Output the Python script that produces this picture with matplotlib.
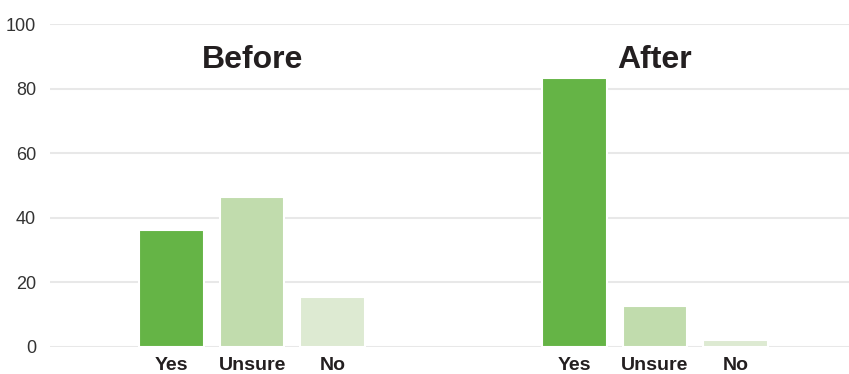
import matplotlib
matplotlib.use('Agg')
import matplotlib.pyplot as plt

# survey answers, percent of respondents
answers = ['Yes', 'Unsure', 'No']
before = [36.3, 46.6, 15.4]
after = [83.3, 12.7, 2.2]
groups = ['Before', 'After']
colours = ['#65b446', '#c1dcad', '#ddead2']

plt.rcParams['font.family'] = ['Liberation Sans', 'DejaVu Sans']

fig = plt.figure(figsize=(8.49, 3.74), dpi=100)
ax = fig.add_axes([0.0589, 0.0722, 0.9411, 0.8623])

# two clusters of three bars, with a gap between them
offsets = [0, 5]
xs, labels = [], []
for off, vals, name in zip(offsets, [before, after], groups):
    pos = [off + i for i in range(len(answers))]
    ax.bar(pos, vals, width=0.8, color=colours, edgecolor='white',
           linewidth=1.5, zorder=3)
    ax.text(off + 1, 89, name, ha='center', va='center', fontsize=23,
            fontweight='bold', color='#231f20')
    xs += pos
    labels += answers

ax.set_xlim(-1.51, 8.41)
ax.set_ylim(0, 100)
ax.set_yticks(range(0, 101, 20))
ax.set_xticks(xs)
ax.set_xticklabels(labels, fontweight='bold', fontsize=14, color='#231f20')
ax.tick_params(axis='y', length=0, pad=10, labelsize=13, labelcolor='#333333')
ax.tick_params(axis='x', length=0, pad=7)
ax.grid(axis='y', color='#e8e8e8', linewidth=1.5, zorder=0)
for s in ax.spines.values():
    s.set_visible(False)

fig.savefig('out.png', dpi=100)
